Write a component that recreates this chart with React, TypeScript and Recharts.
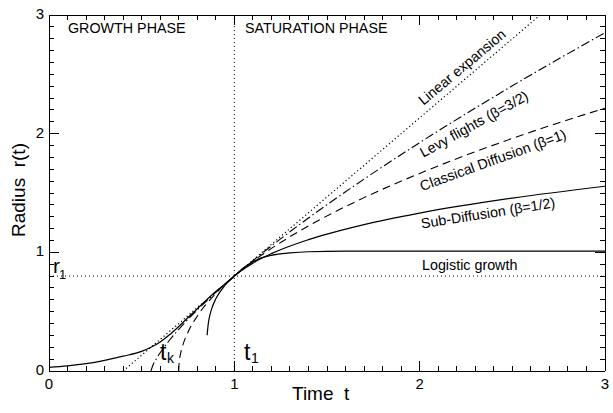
import React from 'react';
import { LineChart, Line, XAxis, YAxis, ReferenceLine } from 'recharts';

const FONT = '"Liberation Sans", Arial, Helvetica, sans-serif';

// Linear expansion (dotted)
const linearT = [0.4, 2.65];
const linearR = [0, 3.0];

// Levy flights (beta = 3/2), dash-dot
const levyT = [0.55, 0.56, 0.58, 0.6, 0.65, 0.7, 0.8, 0.9, 1.0, 1.1, 1.2, 1.4, 1.7, 2.0, 2.5, 3.0];
const levyR = [0, 0.046, 0.105, 0.154, 0.259, 0.351, 0.515, 0.662, 0.8, 0.93, 1.054, 1.289, 1.617, 1.924, 2.403, 2.851];

// Classical diffusion (beta = 1), dashed
const classicT = [0.7, 0.702, 0.71, 0.72, 0.75, 0.8, 0.9, 1.0, 1.1, 1.2, 1.4, 1.7, 2.0, 2.5, 3.0];
const classicR = [0, 0.065, 0.146, 0.207, 0.327, 0.462, 0.653, 0.8, 0.924, 1.033, 1.222, 1.461, 1.665, 1.96, 2.215];

// Sub-diffusion (beta = 1/2), solid
const subT = [0.853, 0.86, 0.87, 0.88, 0.9, 0.95, 1.0, 1.1, 1.2, 1.4, 1.7, 2.0, 2.5, 3.0];
const subR = [0.301, 0.406, 0.483, 0.535, 0.608, 0.723, 0.8, 0.909, 0.989, 1.107, 1.234, 1.331, 1.457, 1.557];

// Logistic growth, solid
const logT = [0, 0.1, 0.2, 0.3, 0.4, 0.5, 0.55, 0.6, 0.65, 0.7, 0.8, 0.9, 1.0, 1.05, 1.1, 1.15, 1.2, 1.3, 1.4, 1.6, 2.0, 3.0];
const logR = [0.03, 0.043, 0.062, 0.09, 0.125, 0.165, 0.2, 0.245, 0.305, 0.375, 0.525, 0.67, 0.8, 0.87, 0.92, 0.955, 0.975, 0.995, 1.005, 1.01, 1.01, 1.01];

const T1 = 1;
const R1 = 0.8;

const X_MIN = 0;
const X_MAX = 3;
const Y_MIN = 0;
const Y_MAX = 3;

const majorTicks = [0, 1, 2, 3];
const innerMajor = [1, 2];
const minorTicks = Array.from({ length: 29 }, (_, i) => (i + 1) / 10).filter((v) => !majorTicks.includes(v));

const toData = (ts: number[], rs: number[]) => ts.map((t, i) => ({ t, r: rs[i] }));

const linearData = toData(linearT, linearR);
const levyData = toData(levyT, levyR);
const classicData = toData(classicT, classicR);
const subData = toData(subT, subR);
const logData = toData(logT, logR);

// inward tick lengths in axis units (about 5px minor, 10px major)
const V_MINOR = 0.042;
const V_MAJOR = 0.084;
const H_MINOR = 0.027;
const H_MAJOR = 0.054;

const BottomLabel = (props: any) => {
  const { x, y, payload } = props;
  return (
    <text x={x} y={y + 18} textAnchor="middle" fontSize={15} fontFamily={FONT} fill="#000">
      {payload.value}
    </text>
  );
};

const LeftLabel = (props: any) => {
  const { x, y, payload } = props;
  return (
    <text x={x - 5} y={y + 4} textAnchor="end" fontSize={15} fontFamily={FONT} fill="#000">
      {payload.value}
    </text>
  );
};

const textStyle = { fontFamily: FONT, fill: '#000' } as const;
const axisLineStyle = { stroke: '#000', strokeWidth: 1, shapeRendering: 'crispEdges' } as any;

const tickLine = (key: string, seg: { x: number; y: number }[]) => (
  <ReferenceLine
    key={key}
    xAxisId="b"
    yAxisId="l"
    segment={seg}
    stroke="#000"
    strokeWidth={1}
    shapeRendering="crispEdges"
    ifOverflow="visible"
  />
);

export default function App() {
  const ticks: React.ReactNode[] = [];
  const all = [...minorTicks.map((v) => [v, false] as const), ...innerMajor.map((v) => [v, true] as const)];
  all.forEach(([v, major]) => {
    const lv = major ? V_MAJOR : V_MINOR;
    const lh = major ? H_MAJOR : H_MINOR;
    ticks.push(tickLine(`b${v}`, [{ x: v, y: Y_MIN }, { x: v, y: Y_MIN + lv }]));
    ticks.push(tickLine(`t${v}`, [{ x: v, y: Y_MAX }, { x: v, y: Y_MAX - lv }]));
    ticks.push(tickLine(`l${v}`, [{ x: X_MIN, y: v }, { x: X_MIN + lh, y: v }]));
    ticks.push(tickLine(`r${v}`, [{ x: X_MAX, y: v }, { x: X_MAX - lh, y: v }]));
  });

  return (
    <div style={{ position: 'absolute', left: 0, top: 0, width: 613, height: 413, background: '#fff' }}>
      <LineChart width={613} height={413} margin={{ top: 15, right: 8, bottom: 0, left: 0 }}>
        <XAxis
          xAxisId="b"
          dataKey="t"
          type="number"
          domain={[X_MIN, X_MAX]}
          ticks={majorTicks}
          interval={0}
          height={42}
          tickSize={0}
          tickMargin={0}
          tick={<BottomLabel />}
          tickLine={false}
          axisLine={axisLineStyle}
          allowDataOverflow
        />
        <YAxis
          yAxisId="l"
          type="number"
          domain={[Y_MIN, Y_MAX]}
          ticks={majorTicks}
          interval={0}
          width={49}
          tickSize={0}
          tickMargin={0}
          tick={<LeftLabel />}
          tickLine={false}
          axisLine={axisLineStyle}
          allowDataOverflow
        />
        <ReferenceLine xAxisId="b" yAxisId="l" y={Y_MAX} stroke="#000" strokeWidth={1} shapeRendering="crispEdges" ifOverflow="visible" />
        <ReferenceLine xAxisId="b" yAxisId="l" x={X_MAX} stroke="#000" strokeWidth={1} shapeRendering="crispEdges" ifOverflow="visible" />
        {ticks}
        <ReferenceLine xAxisId="b" yAxisId="l" x={T1} stroke="#000" strokeWidth={1} strokeDasharray="1 3" />
        <ReferenceLine xAxisId="b" yAxisId="l" y={R1} stroke="#000" strokeWidth={1} strokeDasharray="1 3" />
        <Line xAxisId="b" yAxisId="l" data={linearData} dataKey="r" type="linear" stroke="#000" strokeWidth={1.2} strokeDasharray="1.2 2.6" dot={false} activeDot={false} isAnimationActive={false} />
        <Line xAxisId="b" yAxisId="l" data={levyData} dataKey="r" type="monotone" stroke="#000" strokeWidth={1.1} strokeDasharray="9 3 1.5 3" dot={false} activeDot={false} isAnimationActive={false} />
        <Line xAxisId="b" yAxisId="l" data={classicData} dataKey="r" type="monotone" stroke="#000" strokeWidth={1.1} strokeDasharray="8 5" dot={false} activeDot={false} isAnimationActive={false} />
        <Line xAxisId="b" yAxisId="l" data={subData} dataKey="r" type="monotone" stroke="#000" strokeWidth={1.2} dot={false} activeDot={false} isAnimationActive={false} />
        <Line xAxisId="b" yAxisId="l" data={logData} dataKey="r" type="monotone" stroke="#000" strokeWidth={1.2} dot={false} activeDot={false} isAnimationActive={false} />
      </LineChart>
      <svg width={613} height={413} style={{ position: 'absolute', left: 0, top: 0, pointerEvents: 'none' }}>
        <text x={68} y={33} fontSize={14.3} {...textStyle}>GROWTH PHASE</text>
        <text x={245} y={33} fontSize={14.3} {...textStyle}>SATURATION PHASE</text>
        <text x={462} y={67} fontSize={14.3} textAnchor="middle" dominantBaseline="central" transform="rotate(-40 462 67)" {...textStyle}>Linear expansion</text>
        <text x={474} y={124} fontSize={14.3} textAnchor="middle" dominantBaseline="central" transform="rotate(-29 474 124)" {...textStyle}>Levy flights (β=3/2)</text>
        <text x={493} y={160} fontSize={14.3} textAnchor="middle" dominantBaseline="central" transform="rotate(-20 493 160)" {...textStyle}>Classical Diffusion (β=1)</text>
        <text x={488} y={213} fontSize={14.3} textAnchor="middle" dominantBaseline="central" transform="rotate(-9 488 213)" {...textStyle}>Sub-Diffusion (β=1/2)</text>
        <text x={422} y={270} fontSize={14.3} {...textStyle}>Logistic growth</text>
        <text x={53} y={273} fontSize={21} {...textStyle}>r</text>
        <text x={59} y={279} fontSize={13} {...textStyle}>1</text>
        <text x={160} y={360} fontSize={23} {...textStyle}>t</text>
        <text x={167} y={363} fontSize={14} {...textStyle}>k</text>
        <text x={244} y={360} fontSize={23} {...textStyle}>t</text>
        <text x={251} y={363} fontSize={14} {...textStyle}>1</text>
        <text x={292} y={400} fontSize={19} style={{ whiteSpace: 'pre' }} {...textStyle}>Time  t</text>
        <text x={25} y={190} fontSize={19} textAnchor="middle" transform="rotate(-90 25 190)" style={{ whiteSpace: 'pre' }} {...textStyle}>Radius  r(t)</text>
      </svg>
    </div>
  );
}
